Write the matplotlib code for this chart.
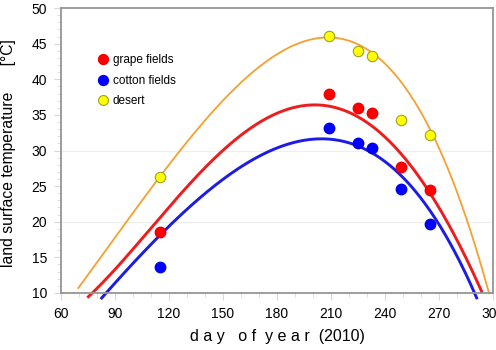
import numpy as np
import matplotlib.pyplot as plt

plt.rcParams['font.family'] = ['Liberation Sans', 'DejaVu Sans']

# observation days (day of year 2010)
days = [115, 209, 225, 233, 249, 265]
grape = [18.6, 38.0, 36.0, 35.3, 27.7, 24.5]
cotton = [13.7, 33.1, 31.1, 30.4, 24.6, 19.7]
desert = [26.3, 46.1, 44.0, 43.3, 34.3, 32.2]

# fitted curves, values at a few days
desert_fit_days = [69.6, 115, 182, 204, 265.5, 287.7, 297.8]
desert_fit = [10.7, 26.3, 44.1, 45.5, 32.9, 18.4, 10.0]
grape_fit_days = [75.2, 115, 182, 204, 249.3, 265.5, 287.7, 293.7]
grape_fit = [9.5, 20.5, 35.4, 36.8, 28.2, 24.7, 14.2, 9.5]
cotton_fit_days = [82.6, 115, 182, 204, 249.3, 265.5, 287.7, 290.9]
cotton_fit = [9.3, 18.1, 30.5, 31.8, 25.9, 21.9, 10.8, 9.5]

xticks = [60, 90, 120, 150, 180, 210, 240, 270, 300]
yticks = [10, 15, 20, 25, 30, 35, 40, 45, 50]

fig = plt.figure(figsize=(4.96, 3.5), dpi=100)
ax = fig.add_axes([0.123, 0.163, 0.871, 0.814])

# smooth polynomial through the read curve values
for fd, fv, col, lw in [(desert_fit_days, desert_fit, '#f5a030', 1.3),
                        (grape_fit_days, grape_fit, '#ee1c1c', 2.1),
                        (cotton_fit_days, cotton_fit, '#1c1ce6', 2.1)]:
    xx = np.linspace(min(fd), max(fd), 300)
    yy = np.polyval(np.polyfit(fd, fv, 4), xx)
    ax.plot(xx, yy, color=col, lw=lw, clip_on=False, zorder=2)

ax.plot(days, grape, 'o', color='#ff0000', ms=7.5, mec='#ee0000', zorder=3, label='grape fields')
ax.plot(days, cotton, 'o', color='#0000ff', ms=7.5, mec='#0000ee', zorder=3, label='cotton fields')
ax.plot(days, desert, 'o', color='#ffff00', ms=7.5, mec='#a0a020', mew=0.8, zorder=3, label='desert')

ax.set_xlim(60, 300)
ax.set_ylim(10, 50)
ax.set_xticks(xticks)
ax.set_yticks(yticks)
ax.set_xticks(np.arange(60, 301, 10), minor=True)
ax.set_yticks(np.arange(10, 51, 1), minor=True)
ax.tick_params(which='both', direction='out', color='#d8d8d8', labelsize=10, pad=5)
ax.tick_params(which='major', length=5)
ax.tick_params(which='minor', length=3)

for y in [20, 30]:
    ax.axhline(y, color='#eeeeee', lw=0.8, zorder=0)

for s in ax.spines.values():
    s.set_color('#959595')
    s.set_linewidth(1.3)

ax.set_xlabel('d a y   o f  y e a r  (2010)', fontsize=11.5, labelpad=6)
ax.set_ylabel('land surface temperature      [°C]', fontsize=11.3)
ax.yaxis.set_label_coords(-0.104, 0.49)

leg = ax.legend(loc='upper left', bbox_to_anchor=(0.06, 0.875), frameon=False,
                fontsize=8.5, handletextpad=0.3, labelspacing=0.72, markerscale=0.95,
                handlelength=1.0)

fig.savefig('out.png', dpi=100)
